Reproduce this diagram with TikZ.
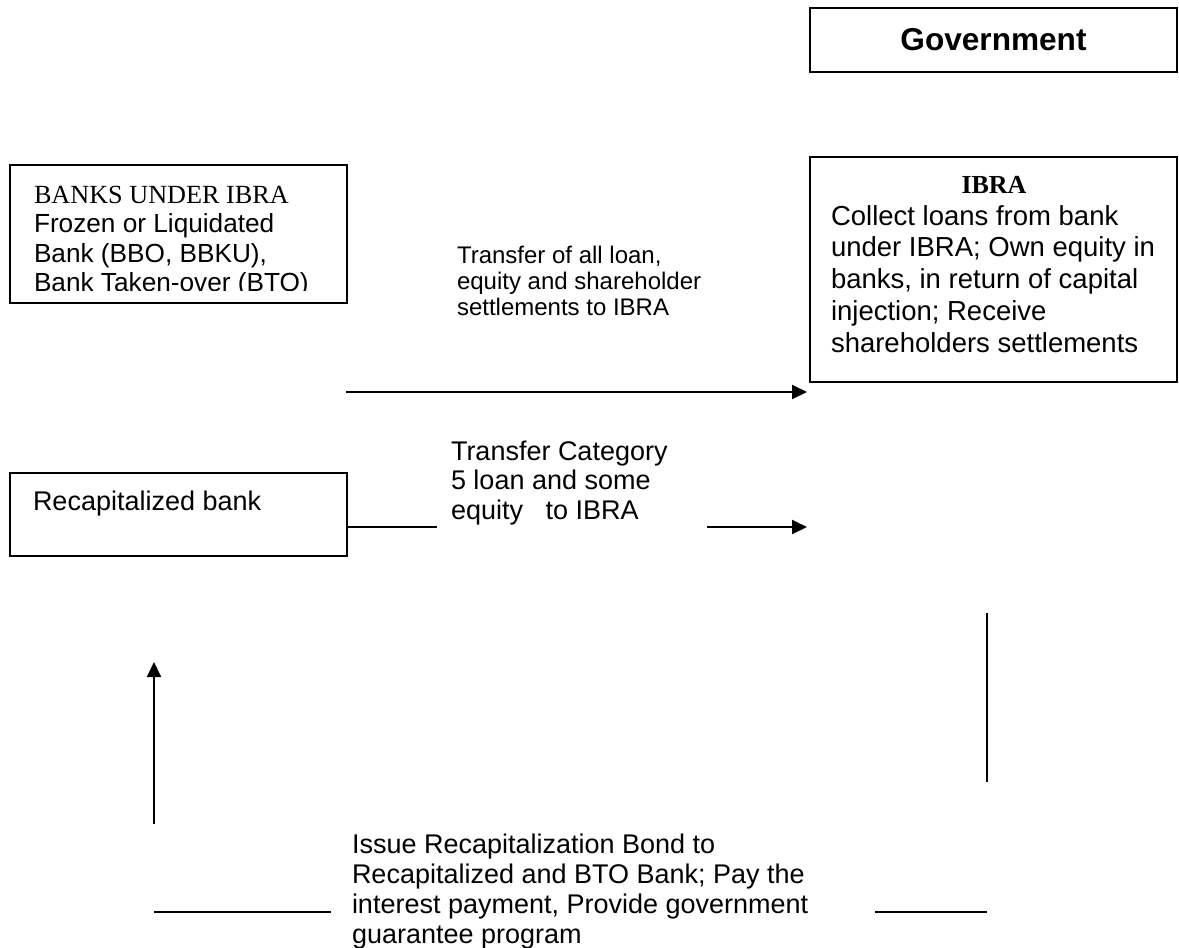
\documentclass[tikz,border=0pt]{standalone}
\usepackage{fontspec}
\setmainfont{Liberation Sans}
\newfontfamily\timesfont{Liberation Serif}
\usetikzlibrary{arrows.meta}

\tikzset{
  box/.style={draw=black,line width=1pt,rectangle,inner sep=0pt},
  lbl/.style={inner sep=0pt,anchor=base west,align=left},
}

\begin{document}
\begin{tikzpicture}[x=0.5pt,y=-0.5pt,line join=miter,>={Triangle[length=7.5pt,width=7pt]},line width=1pt]
        \useasboundingbox (0,0) rectangle (1179,948);
        % boxes
        \node[box,minimum width=183.5pt,minimum height=32pt,font=\bfseries\fontsize{15.8}{18}\selectfont] (gov) at (993.5,40) {Government};
        \node[box,minimum width=183.5pt,minimum height=112.5pt] (ibra) at (993.5,269.5) {};
        \node[box,minimum width=168.5pt,minimum height=69pt] (banks) at (178.5,234) {};
        \node[box,minimum width=168.5pt,minimum height=41.5pt] (recap) at (178.5,514.5) {};
        % texts in the boxes (base = last line)
        \node[anchor=base,inner sep=0pt,font=\timesfont\bfseries\fontsize{13}{15}\selectfont] (ibrahead) at (994,193) {IBRA};
        \node[lbl,font=\fontsize{13.75}{15.85}\selectfont] (ibratext) at (830,352) {Collect loans from bank\\under IBRA; Own equity in\\banks, in return of capital\\injection; Receive\\shareholders settlements};
        \begin{scope}
          \clip (10,165) rectangle (347,290);
          \node[lbl,font=\fontsize{13.1}{14.75}\selectfont] (bankstext) at (33,291.5) {{\timesfont BANKS UNDER IBRA}\\Frozen or Liquidated\\Bank (BBO, BBKU),\\Bank Taken-over (BTO)};
        \end{scope}
        \node[lbl,font=\fontsize{13.5}{15.5}\selectfont] (recaptext) at (32,510) {Recapitalized bank};
        % labels on the flows
        \node[lbl,font=\fontsize{12}{13}\selectfont] (toplbl) at (456,315) {Transfer of all loan,\\equity and shareholder\\settlements to IBRA};
        \node[lbl,font=\fontsize{13.5}{14.75}\selectfont] (midlbl) at (450,519) {Transfer Category\\5 loan and some\\equity\ \ \ to IBRA};
        \node[lbl,font=\fontsize{13.5}{15}\selectfont] (botlbl) at (351,943) {Issue Recapitalization Bond to\\Recapitalized and BTO Bank; Pay the\\interest payment, Provide government\\guarantee program};
        % loose ends of the flows
        \coordinate (topfrom) at (346,392);
        \coordinate (topto) at (807,392);
        \coordinate (midgap1) at (437,527);
        \coordinate (midgap2) at (707,527);
        \coordinate (midto) at (807,527);
        \coordinate (rtop) at (987,613);
        \coordinate (rbot) at (987,782);
        \coordinate (brfrom) at (987,912);
        \coordinate (brto) at (875,912);
        \coordinate (blfrom) at (331,912);
        \coordinate (blto) at (154,912);
        \coordinate (upfrom) at (154,824);
        \coordinate (upto) at (154,662);
        % flows
        \draw[->] (topfrom) -- (topto);
        \draw (recap.east |- midgap1) -- (midgap1);
        \draw[->] (midgap2) -- (midto);
        \draw (rtop) -- (rbot);
        \draw (brfrom) -- (brto);
        \draw (blfrom) -- (blto);
        \draw[->] (upfrom) -- (upto);
\end{tikzpicture}
\end{document}
